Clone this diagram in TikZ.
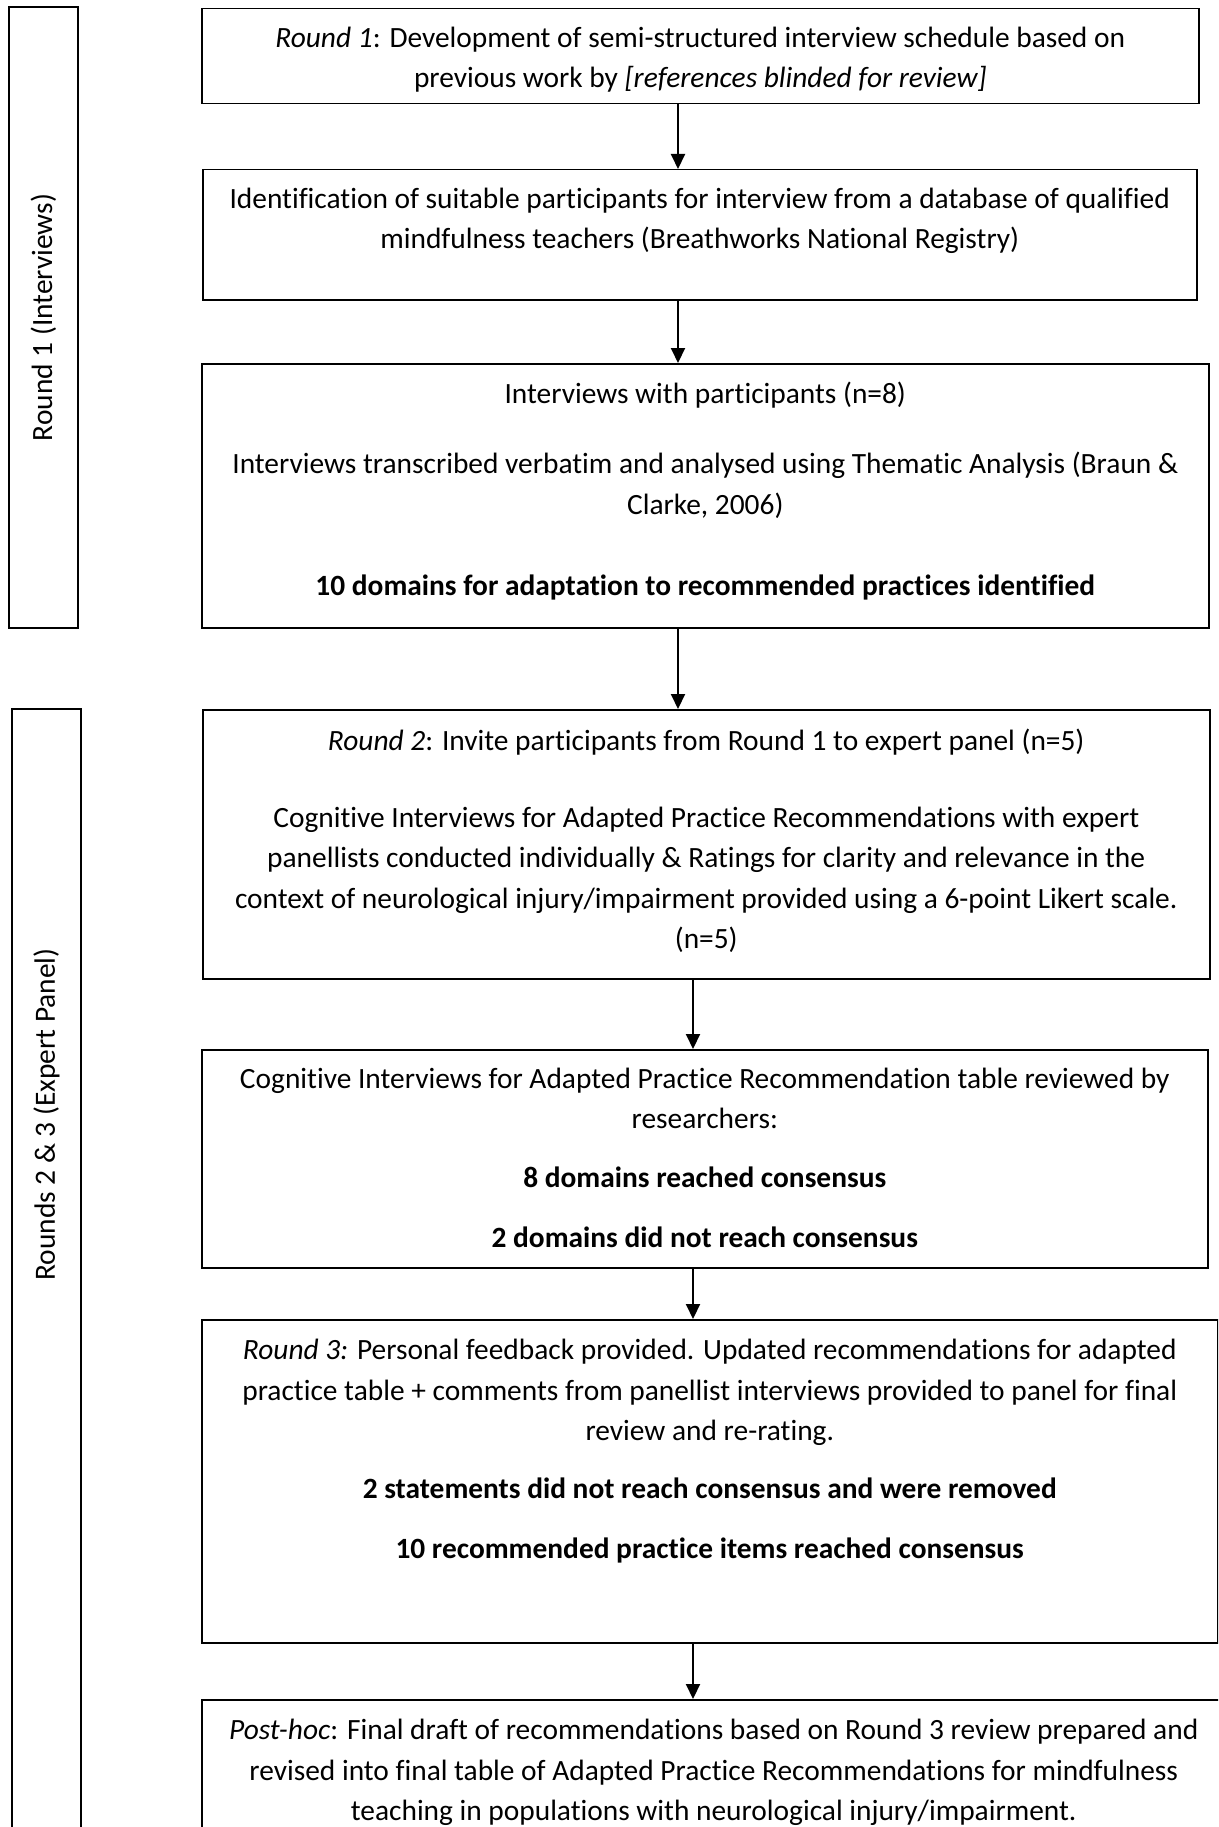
\documentclass[tikz,border=0pt]{standalone}
\usepackage{fontspec}
\setmainfont{Carlito}[Ligatures=NoCommon]
\usetikzlibrary{arrows.meta}
\tikzset{
  box/.style={draw, line width=1.5pt, inner sep=0pt, anchor=north west},
  side/.style={draw, line width=1.5pt, inner sep=0pt, rotate=90, font=\fontsize{29.4pt}{40.5pt}\selectfont},
  arr/.style={line width=2pt, -{Triangle[width=14pt,length=15pt]}},
}
\newcommand\bx[4]{\parbox[c][#2pt][t]{#1pt}{\fontsize{29.4pt}{40.5pt}\selectfont\centering\rule{0pt}{#3pt}#4\par}}
\begin{document}
\begin{tikzpicture}[x=1pt,y=-1pt]
\useasboundingbox (0,0) rectangle (1218,1827);
\fill[white] (0,0) rectangle (1218,1827);
\clip (0,0) rectangle (1218,1827);

\node[side, minimum width=621pt, minimum height=69pt] (L1) at (43.5,317.5) {Round 1 (Interviews)};
\node[side, minimum width=1141pt, minimum height=69pt] (L2) at (46.5,1279.5) {\hspace*{330pt}Rounds 2 \& 3 (Expert Panel)};

\node[box] (A) at (201,8) {\bx{997}{95}{38.5}{\textit{Round 1}: Development of semi-structured interview schedule based on\\ previous work by \textit{[references blinded for review]}}};

\node[box] (B) at (202,169) {\bx{994}{130}{38.5}{Identification of suitable participants for interview from a database of qualified\\ mindfulness teachers (Breathworks National Registry)}};

\node[box] (C) at (201,363) {\bx{1007}{264}{39.5}{Interviews with participants (n=8)\\[30pt]
Interviews transcribed verbatim and analysed using Thematic Analysis (Braun \&\\ Clarke, 2006)\\[41pt]
\textbf{10 domains for adaptation to recommended practices identified}}};

\node[box] (D) at (202,709) {\bx{1007}{269}{41}{\textit{Round 2}: Invite participants from Round 1 to expert panel (n=5)\\[36pt]
Cognitive Interviews for Adapted Practice Recommendations with expert\\
panellists conducted individually \& Ratings for clarity and relevance in the\\
context of neurological injury/impairment provided using a 6-point Likert scale.\\
(n=5)}};

\node[box] (E) at (201,1049) {\bx{1006}{218}{38.5}{Cognitive Interviews for Adapted Practice Recommendation table reviewed by\\ researchers:\\[18pt]
\textbf{8 domains reached consensus}\\[20pt]
\textbf{2 domains did not reach consensus}}};

\node[box] (F) at (201,1319) {\bx{1016}{323}{40}{\textit{Round 3:} Personal feedback provided. Updated recommendations for adapted\\
practice table + comments from panellist interviews provided to panel for final\\
review and re-rating.\\[17pt]
\textbf{2 statements did not reach consensus and were removed}\\[20pt]
\textbf{10 recommended practice items reached consensus}}};

\node[box] (G) at (201,1699) {\bx{1024}{151}{40}{\textit{Post-hoc}: Final draft of recommendations based on Round 3 review prepared and\\
revised into final table of Adapted Practice Recommendations for mindfulness\\
teaching in populations with neurological injury/impairment.}};

\coordinate (ax) at (678,0);
\coordinate (bx) at (693,0);
\draw[arr] (A.south -| ax) -- (B.north -| ax);
\draw[arr] (B.south -| ax) -- (C.north -| ax);
\draw[arr] (C.south -| ax) -- (D.north -| ax);
\draw[arr] (D.south -| bx) -- (E.north -| bx);
\draw[arr] (E.south -| bx) -- (F.north -| bx);
\draw[arr] (F.south -| bx) -- (G.north -| bx);
\end{tikzpicture}
\end{document}
